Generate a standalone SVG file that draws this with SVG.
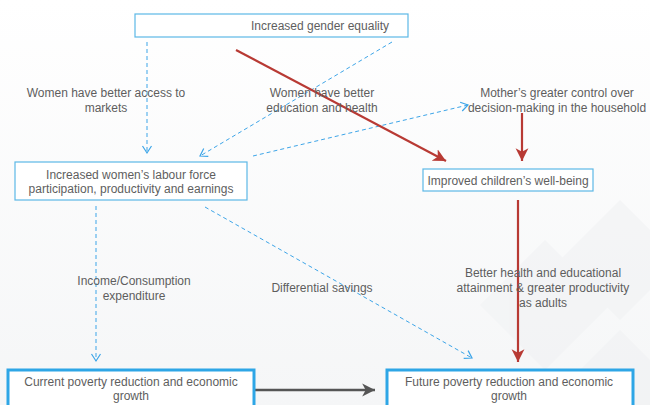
<svg xmlns="http://www.w3.org/2000/svg" width="650" height="405" viewBox="0 0 650 405">
  <defs>
    <style>
      .box { fill: #ffffff; stroke: #5cb8e6; stroke-width: 1.2; }
      .boxb { fill: #ffffff; stroke: #2ea6e6; stroke-width: 3; }
      .t { font-family: "Liberation Sans", Arial, sans-serif; font-size: 12px; fill: #5e5e5e; text-anchor: middle; }
      .dash { fill: none; stroke: #3da5e8; stroke-width: 1; stroke-dasharray: 4 3; }
      .red { fill: none; stroke: #b83a34; stroke-width: 2.2; }
      .gray { fill: none; stroke: #555555; stroke-width: 2.6; }
    </style>
    <marker id="mBlue" markerUnits="userSpaceOnUse" markerWidth="12" markerHeight="12" refX="9" refY="5" orient="auto" viewBox="0 0 12 10">
      <path d="M2,0.5 L9,5 L2,9.5" fill="none" stroke="#3da5e8" stroke-width="1.2"/>
    </marker>
    <marker id="mRed" markerUnits="userSpaceOnUse" markerWidth="14" markerHeight="14" refX="11" refY="6" orient="auto" viewBox="0 0 12 12">
      <path d="M0,0.5 L11,6 L0,11.5 L3,6 Z" fill="#b83a34"/>
    </marker>
    <marker id="mGray" markerUnits="userSpaceOnUse" markerWidth="14" markerHeight="14" refX="11" refY="6" orient="auto" viewBox="0 0 12 12">
      <path d="M0,0.5 L11,6 L0,11.5 L3,6 Z" fill="#555555"/>
    </marker>
    <linearGradient id="bg" x1="0" y1="0" x2="0" y2="1">
      <stop offset="0" stop-color="#ffffff"/>
      <stop offset="1" stop-color="#f5f6f7"/>
    </linearGradient>
  </defs>

  <rect x="0" y="0" width="650" height="405" fill="url(#bg)"/>
  <g id="background" fill="#f0f1f3" opacity="0.5">
    <polygon points="545,240 610,305 545,370 480,305"/>
    <polygon points="620,200 680,260 620,320 560,260"/>
    <polygon points="620,330 680,390 620,450 560,390"/>
  </g>

  <g id="connectors">
    <line class="dash" x1="147" y1="42" x2="147" y2="153" marker-end="url(#mBlue)"/>
    <line class="dash" x1="392" y1="42" x2="200" y2="156" marker-end="url(#mBlue)"/>
    <line class="dash" x1="253" y1="156" x2="468" y2="105" marker-end="url(#mBlue)"/>
    <line class="dash" x1="96" y1="206" x2="96" y2="361" marker-end="url(#mBlue)"/>
    <line class="dash" x1="205" y1="207" x2="472" y2="358" marker-end="url(#mBlue)"/>
    <line class="red" x1="236" y1="50" x2="446" y2="161" marker-end="url(#mRed)"/>
    <line class="red" x1="522" y1="113" x2="522" y2="161" marker-end="url(#mRed)"/>
    <line class="red" x1="518" y1="200" x2="518" y2="362" marker-end="url(#mRed)"/>
    <line class="gray" x1="254" y1="390" x2="375" y2="390" marker-end="url(#mGray)"/>
  </g>

  <g id="label-markets">
    <text class="t" x="106" y="97">Women have better access to</text>
    <text class="t" x="106" y="112">markets</text>
  </g>
  <g id="label-education">
    <text class="t" x="322" y="97">Women have better</text>
    <text class="t" x="322" y="112">education and health</text>
  </g>
  <g id="label-mother">
    <text class="t" x="557" y="97">Mother’s greater control over</text>
    <text class="t" x="557" y="112">decision-making in the household</text>
  </g>
  <g id="label-income">
    <text class="t" x="134" y="285">Income/Consumption</text>
    <text class="t" x="134" y="300">expenditure</text>
  </g>
  <g id="label-savings">
    <text class="t" x="322" y="292">Differential savings</text>
  </g>
  <g id="label-health">
    <text class="t" x="543" y="277">Better health and educational</text>
    <text class="t" x="543" y="292">attainment &amp; greater productivity</text>
    <text class="t" x="543" y="307">as adults</text>
  </g>

  <g id="node-gender">
    <rect class="box" x="135" y="14" width="273" height="23"/>
    <text class="t" x="320" y="30">Increased gender equality</text>
  </g>
  <g id="node-labour">
    <rect class="box" x="15" y="162" width="232" height="38"/>
    <text class="t" x="131" y="179">Increased women’s labour force</text>
    <text class="t" x="131" y="193">participation, productivity and earnings</text>
  </g>
  <g id="node-children">
    <rect class="box" x="423" y="169" width="170" height="22"/>
    <text class="t" x="508" y="185">Improved children’s well-being</text>
  </g>
  <g id="node-current">
    <rect class="boxb" x="8" y="370" width="246" height="40"/>
    <text class="t" x="131" y="386">Current poverty reduction and economic</text>
    <text class="t" x="131" y="400">growth</text>
  </g>
  <g id="node-future">
    <rect class="boxb" x="387" y="370" width="246" height="40"/>
    <text class="t" x="509" y="386">Future poverty reduction and economic</text>
    <text class="t" x="509" y="400">growth</text>
  </g>
</svg>
